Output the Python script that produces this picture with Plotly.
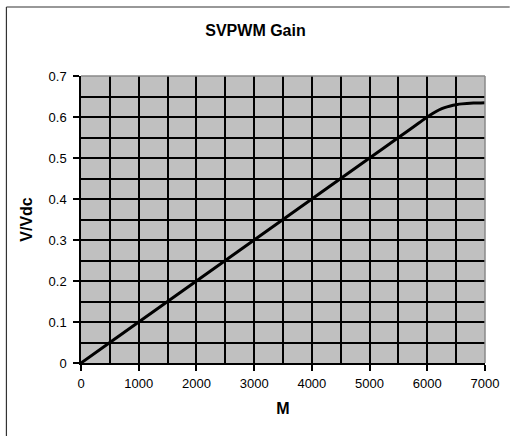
import plotly.graph_objects as go

# Data
m_values = [0, 500, 1000, 1500, 2000, 2500, 3000, 3500, 4000, 4500, 5000, 5500,
            5800, 5900, 6000, 6100, 6200, 6300, 6400, 6500, 6600, 6800, 7000]
v_over_vdc = [0.0, 0.05, 0.10, 0.15, 0.20, 0.25, 0.30, 0.35, 0.40, 0.45, 0.50, 0.55,
              0.58, 0.59, 0.60, 0.609, 0.617, 0.623, 0.627, 0.630, 0.632, 0.634, 0.635]

x_ticks = [0, 1000, 2000, 3000, 4000, 5000, 6000, 7000]
y_ticks = [0, 0.1, 0.2, 0.3, 0.4, 0.5, 0.6, 0.7]

W, H = 511, 436
ML, MR, MT, MB = 81, 21, 76, 73
pw, ph = W - ML - MR, H - MT - MB

def px(x):
    return (x - ML) / pw

def py(y):
    return (H - MB - y) / ph

font = "Liberation Sans, Arial, sans-serif"

fig = go.Figure()
fig.add_trace(go.Scatter(
    x=m_values, y=v_over_vdc, mode="lines",
    line=dict(color="black", width=3, shape="spline", smoothing=0.6),
    showlegend=False, hoverinfo="skip",
))

fig.update_layout(
    width=W, height=H,
    margin=dict(l=ML, r=MR, t=MT, b=MB, pad=0),
    paper_bgcolor="white",
    plot_bgcolor="#c0c0c0",
    font=dict(family=font, color="black", size=12),
    title=dict(text="<b>SVPWM Gain</b>", x=0.5, xanchor="center",
               y=1 - 30 / H, yanchor="middle", font=dict(size=16, family=font)),
    xaxis=dict(
        range=[0, 7000], tickvals=x_ticks, ticktext=[str(v) for v in x_ticks],
        showgrid=True, gridcolor="black", gridwidth=1.6,
        minor=dict(dtick=500, tick0=0, showgrid=True, gridcolor="black", gridwidth=1.6, ticks=""),
        showline=True, linecolor="black", linewidth=1.5,
        ticks="outside", ticklen=6, tickcolor="black", tickwidth=1.5,
        ticklabelstandoff=2,
        zeroline=False,
        title=dict(text="<b>M</b>", font=dict(size=16, family=font), standoff=12),
        tickfont=dict(size=13),
    ),
    yaxis=dict(
        range=[0, 0.7], tickvals=y_ticks, ticktext=["0", "0.1", "0.2", "0.3", "0.4", "0.5", "0.6", "0.7"],
        showgrid=True, gridcolor="black", gridwidth=1.6,
        minor=dict(dtick=0.05, tick0=0, showgrid=True, gridcolor="black", gridwidth=1.6, ticks=""),
        showline=True, linecolor="black", linewidth=1.5,
        ticks="outside", ticklen=6, tickcolor="black", tickwidth=1.5,
        ticklabelstandoff=4,
        zeroline=False,
        title=dict(text="<b>V/Vdc</b>", font=dict(size=16, family=font), standoff=12),
        tickfont=dict(size=13),
    ),
)

# Gray top and right borders of the plot area
fig.add_shape(type="line", xref="paper", yref="paper", x0=0, x1=1, y0=1, y1=1,
              line=dict(color="#8a8a8a", width=1.5), layer="above")
fig.add_shape(type="line", xref="paper", yref="paper", x0=1, x1=1, y0=0, y1=1,
              line=dict(color="#8a8a8a", width=1.5), layer="above")

# Outer chart frame (left and top edges visible)
fig.add_shape(type="line", xref="paper", yref="paper", x0=px(5.5), x1=px(5.5), y0=py(440), y1=py(7),
              line=dict(color="#333333", width=1.2), layer="above")
fig.add_shape(type="line", xref="paper", yref="paper", x0=px(5.5), x1=px(515), y0=py(7), y1=py(7),
              line=dict(color="#333333", width=1.2), layer="above")

fig.write_html("out.html")
